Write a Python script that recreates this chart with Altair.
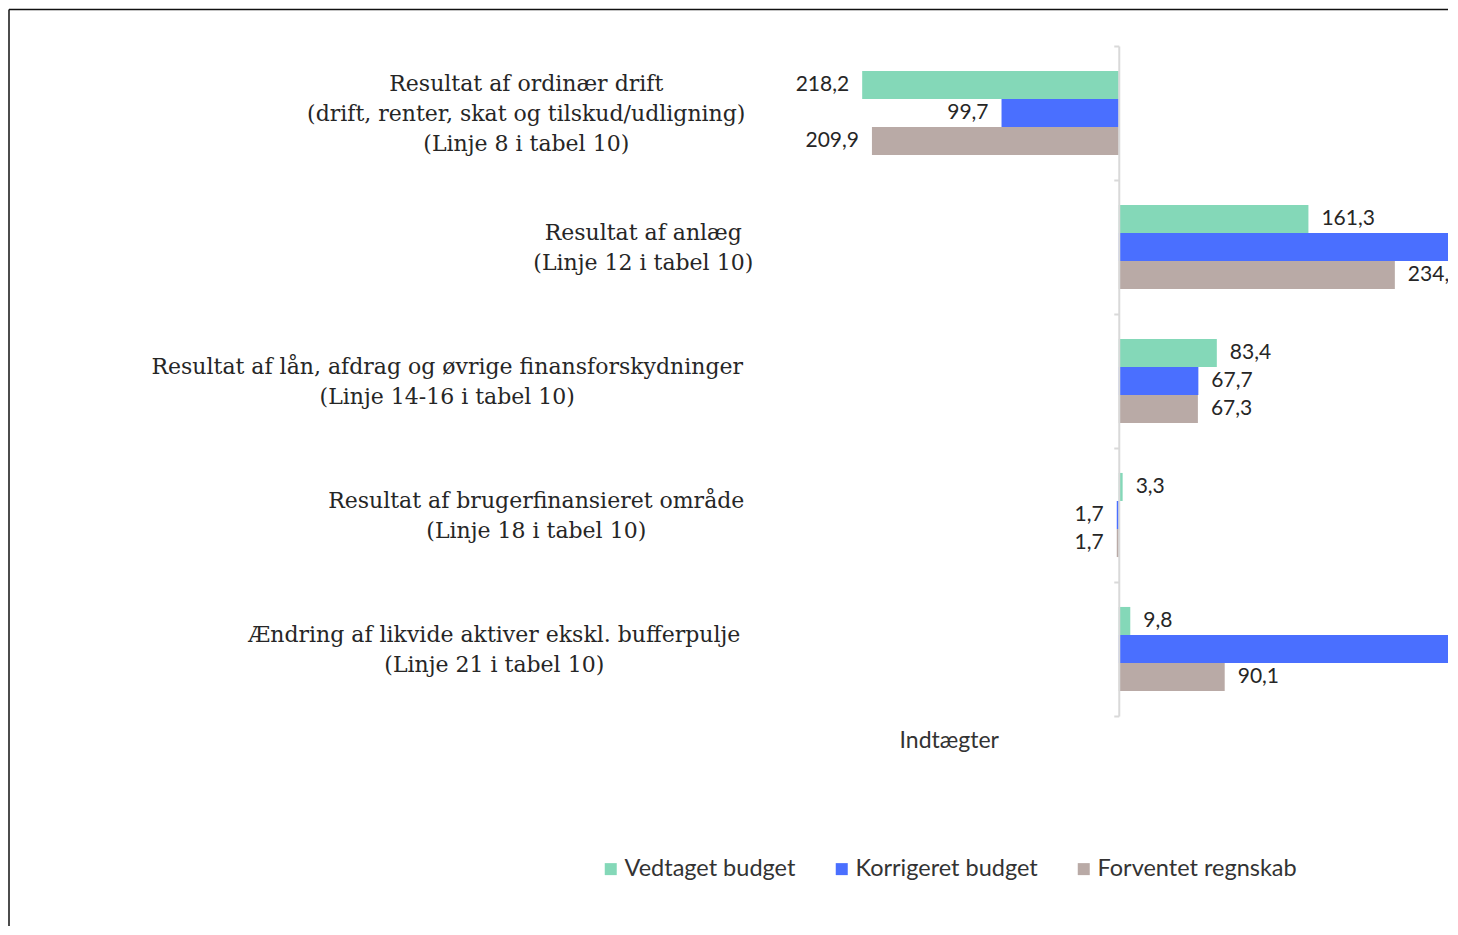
import json
import altair as alt
import pandas as pd

# ---------------- data ----------------
categories = [
    "Resultat af ordinær drift|(drift, renter, skat og tilskud/udligning)|(Linje 8 i tabel 10)",
    "Resultat af anlæg|(Linje 12 i tabel 10)",
    "Resultat af lån, afdrag og øvrige finansforskydninger|(Linje 14-16 i tabel 10)",
    "Resultat af brugerfinansieret område|(Linje 18 i tabel 10)",
    "Ændring af likvide aktiver ekskl. bufferpulje|(Linje 21 i tabel 10)",
]
series = ["Vedtaget budget", "Korrigeret budget", "Forventet regnskab"]
vedtaget = [-218.2, 161.3, 83.4, 3.3, 9.8]
korrigeret = [-99.7, 305.0, 67.7, -1.7, 325.0]
forventet = [-209.9, 234.8, 67.3, -1.7, 90.1]
x_title = "Indtægter"

# ---------------- styles / layout ----------------
colors = ["#84D8B8", "#4A6FFF", "#B9AAA6"]
W, H = 682, 670
X_DOMAIN = [-300, 280]
ZERO_PX = W * (0 - X_DOMAIN[0]) / (X_DOMAIN[1] - X_DOMAIN[0])
# distance (px) from the zero axis to the centre of each category label block
label_centre_dist = [593, 476, 672, 583, 625]
TICK = 5
LINE_H = 30
CAT_FONT = "DejaVu Serif"
CAT_SIZE = 22
NUM_FONT = "Lato"

rows = []
for s, vals in zip(series, [vedtaget, korrigeret, forventet]):
    for c, v in zip(categories, vals):
        rows.append({"kategori": c, "serie": s, "v": v})
df = pd.DataFrame(rows)

pad_expr = "[{}][indexof({}, datum.value)]".format(
    ",".join(str(d - TICK) for d in label_centre_dist), json.dumps(categories, ensure_ascii=False)
)
off_expr = "-(length(split(datum.value, '|')) - 1) * {}".format(LINE_H / 2)

y_enc = alt.Y(
    "kategori:N",
    sort=categories,
    scale=alt.Scale(paddingInner=0, paddingOuter=0),
    axis=alt.Axis(
        title=None,
        orient="left",
        offset=-ZERO_PX,
        zindex=1,
        domain=True,
        domainColor="#D9D9D9",
        domainWidth=2,
        ticks=True,
        tickBand="extent",
        tickColor="#D9D9D9",
        tickWidth=2,
        tickSize=TICK,
        grid=False,
        labelExpr="split(datum.label, '|')",
        labelAlign="center",
        labelBaseline="middle",
        labelFont=CAT_FONT,
        labelFontSize=CAT_SIZE,
        labelLineHeight=LINE_H,
        labelLimit=2000,
        labelOverlap=False,
        labelColor="#262626",
        labelPadding=alt.ExprRef(pad_expr),
        labelOffset=alt.ExprRef(off_expr),
    ),
)
yoff_enc = alt.YOffset(
    "serie:N", sort=series, scale=alt.Scale(paddingInner=0, paddingOuter=0.89)
)
x_enc = alt.X(
    "v:Q",
    scale=alt.Scale(domain=X_DOMAIN, nice=False, zero=False),
    axis=alt.Axis(
        title=x_title,
        labels=False,
        ticks=False,
        domain=False,
        grid=False,
        titleX=ZERO_PX - 170,
        titleY=24,
        titleAlign="center",
        titleBaseline="middle",
        titleFont=NUM_FONT,
        titleFontSize=23,
        titleFontWeight="normal",
        titleColor="#333333",
    ),
)
color_enc = alt.Color(
    "serie:N",
    sort=series,
    scale=alt.Scale(domain=series, range=colors),
    legend=alt.Legend(
        title=None,
        orient="none",
        legendX=-167,
        legendY=811,
        direction="horizontal",
        symbolType="square",
        symbolSize=144,
        symbolStrokeWidth=0,
        labelFont=NUM_FONT,
        labelFontSize=23.5,
        labelColor="#333333",
        columnPadding=34,
        labelOffset=2,
        padding=0,
        labelLimit=2000,
    ),
)

base = alt.Chart(df).transform_calculate(
    lbl="replace(format(abs(datum.v), '.1f'), '.', ',')"
)

bars = base.mark_bar(clip=True).encode(x=x_enc, y=y_enc, yOffset=yoff_enc, color=color_enc)

txt_style = dict(baseline="middle", font=NUM_FONT, fontSize=21, color="#262626", clip=True)
txt_pos = (
    base.transform_filter("datum.v >= 0")
    .mark_text(align="left", dx=13, **txt_style)
    .encode(x=x_enc, y=y_enc, yOffset=yoff_enc, text="lbl:N")
)
txt_neg = (
    base.transform_filter("datum.v < 0")
    .mark_text(align="right", dx=-13, **txt_style)
    .encode(x=x_enc, y=y_enc, yOffset=yoff_enc, text="lbl:N")
)

# outer frame (top and left edge) of the original chart picture
one = pd.DataFrame({"a": [0]})
frame_left = alt.Chart(one).mark_rule(color="#111111", strokeWidth=1.5).encode(
    x=alt.value(-757), y=alt.value(-36.5), y2=alt.value(880)
)
frame_top = alt.Chart(one).mark_rule(color="#111111", strokeWidth=1.5).encode(
    x=alt.value(-757), x2=alt.value(W), y=alt.value(-36.5)
)

chart = (
    alt.layer(bars, txt_pos, txt_neg, frame_left, frame_top)
    .properties(width=W, height=H, padding=0, background="white")
    .configure_view(stroke=None)
)

chart.save("out.html", embed_options={"renderer": "svg", "actions": False})
